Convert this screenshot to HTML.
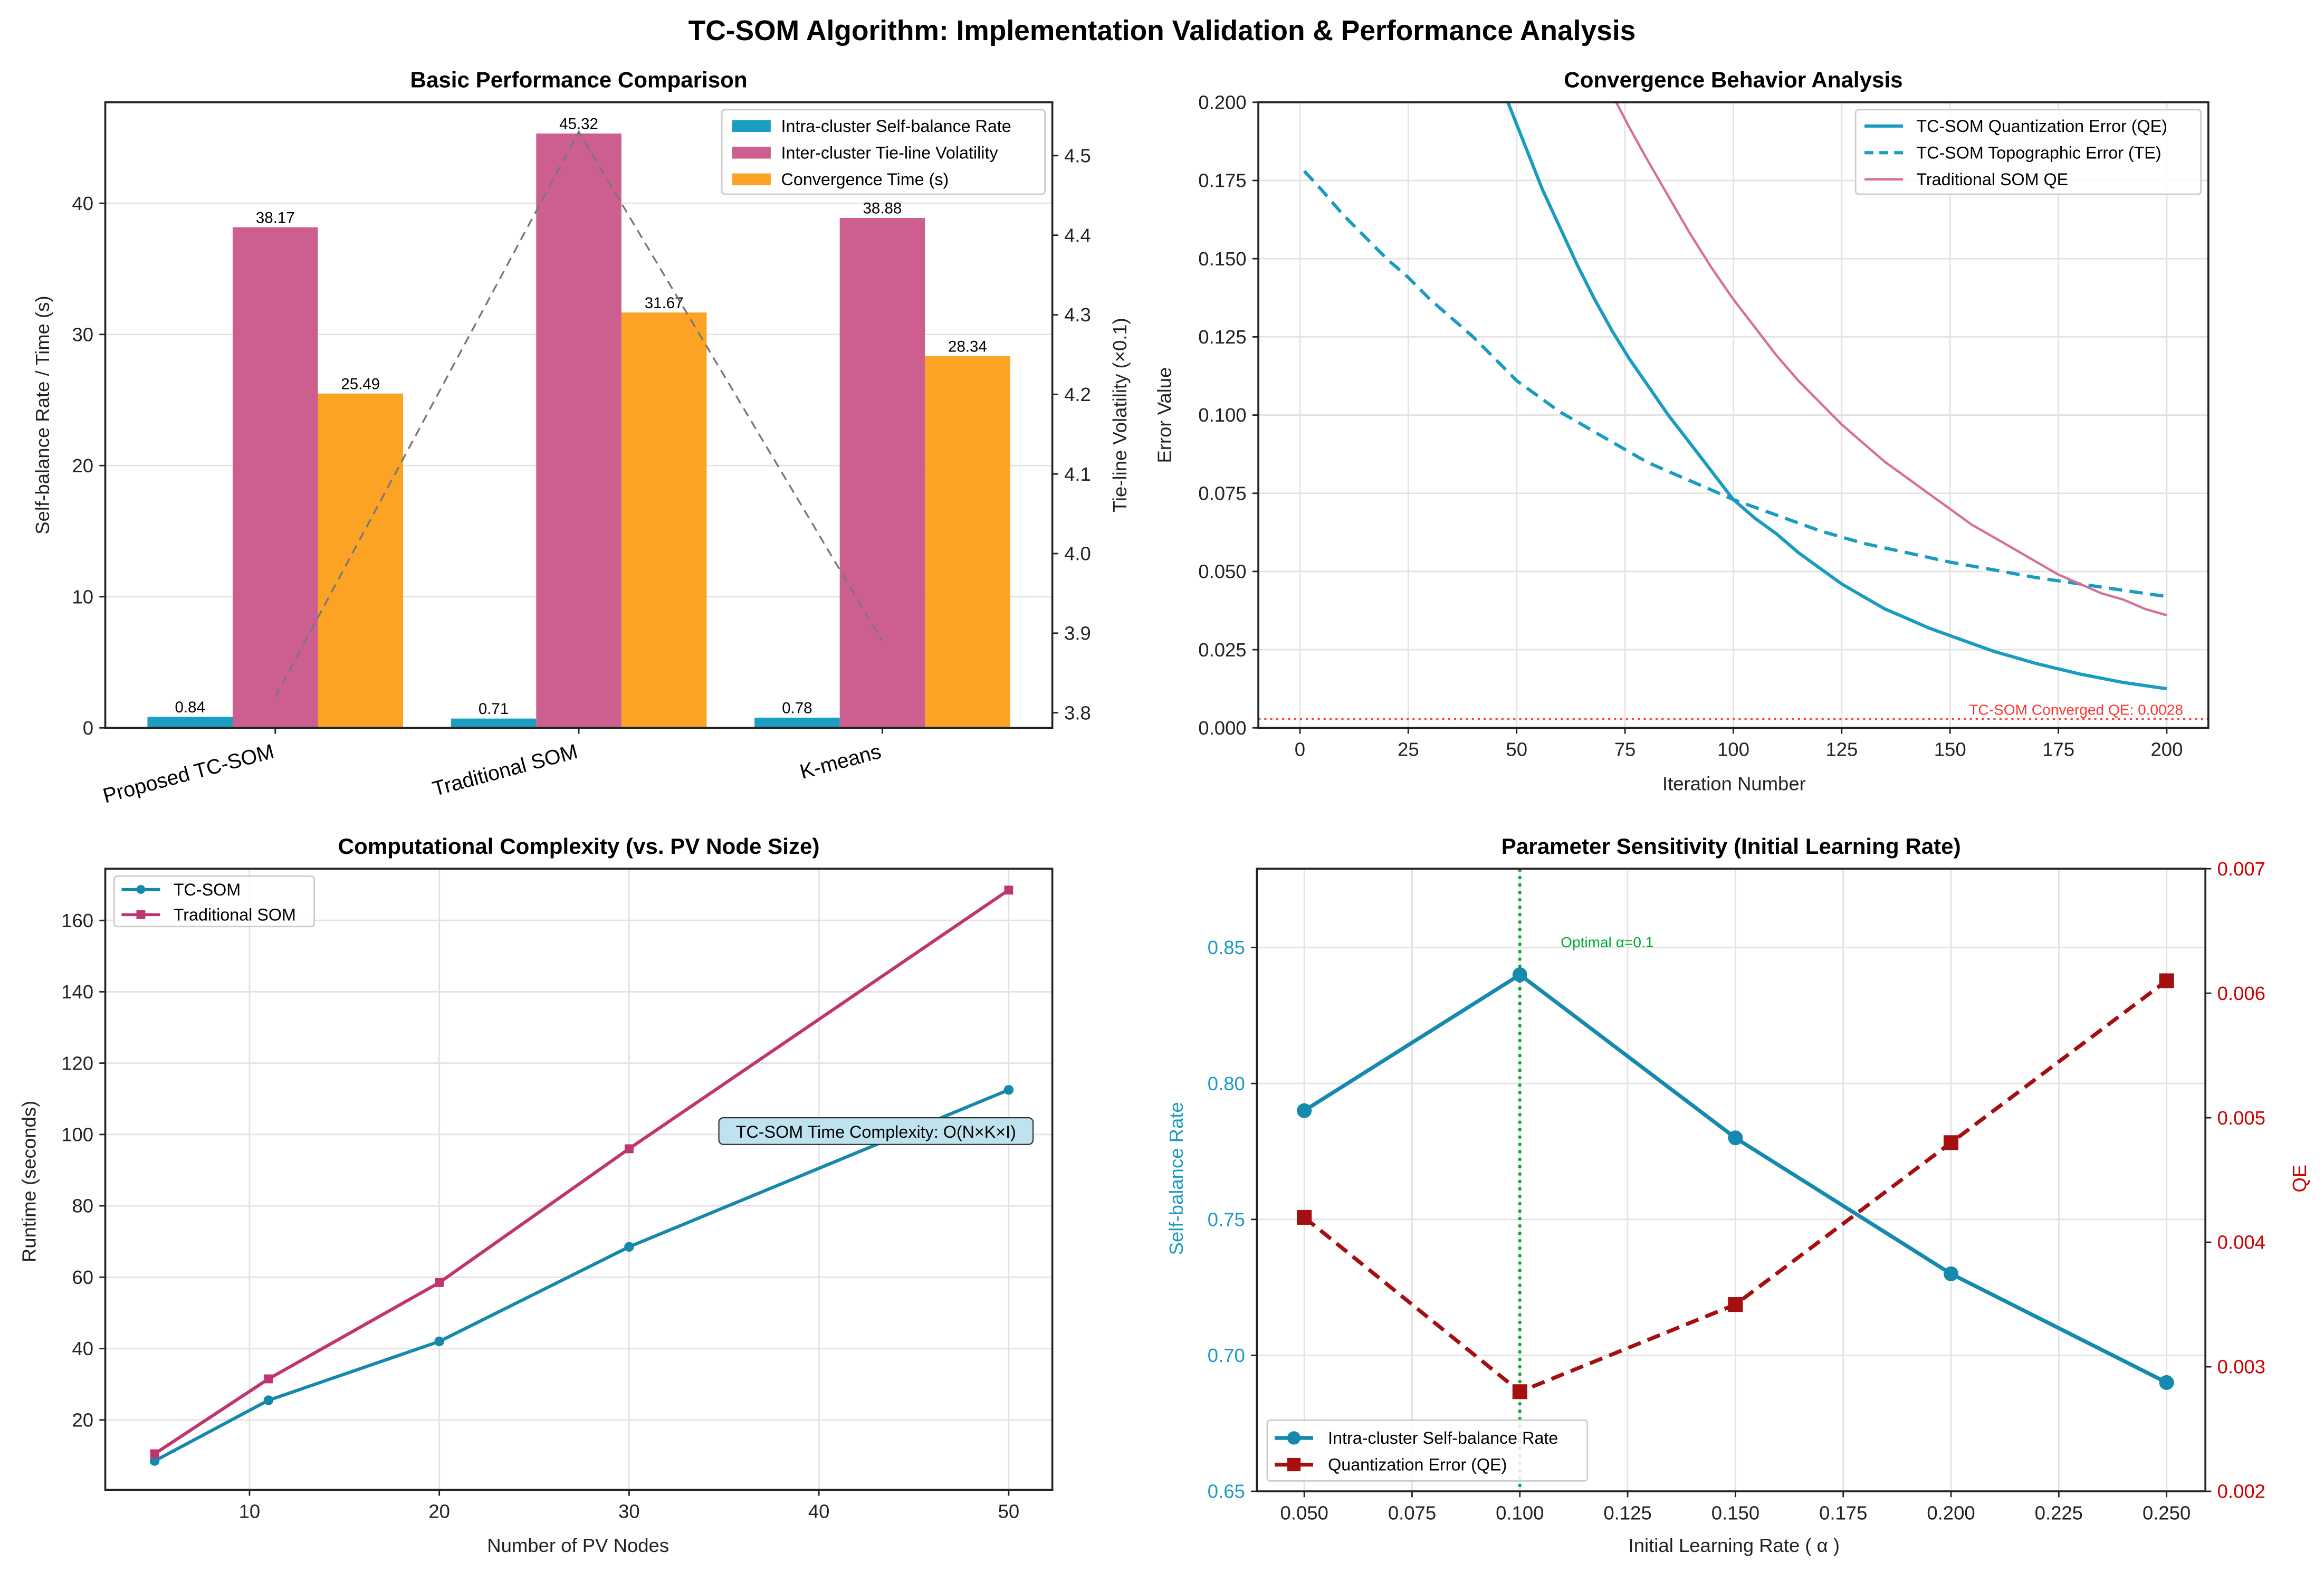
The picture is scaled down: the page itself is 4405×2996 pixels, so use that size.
<!DOCTYPE html>
<html><head><meta charset="utf-8">
<style>
html,body{margin:0;padding:0;background:#fff;}
svg{display:block;font-family:"Liberation Sans",Arial,sans-serif;}
</style></head>
<body>
<svg id="fig" width="4405" height="2996" viewBox="0 0 1568 1066.5" xmlns="http://www.w3.org/2000/svg">
<rect width="1568" height="1066.5" fill="#fff"/>
<text x="784" y="27" text-anchor="middle" font-size="19" font-weight="bold">TC-SOM Algorithm: Implementation Validation &amp; Performance Analysis</text>
</svg>
<script>
// ---------- DATA ----------
const barCategories=["Proposed TC-SOM","Traditional SOM","K-means"];
const selfBalance=[0.84,0.71,0.78];
const tieLineVol=[38.17,45.32,38.88];
const convTime=[25.49,31.67,28.34];
const tieLineRight=[3.82,4.53,3.89];
const barLeftTicks=[0,10,20,30,40];
const barRightTicks=[3.8,3.9,4.0,4.1,4.2,4.3,4.4,4.5];

const qeIter=[48,52,56,60,64,68,72,76,80,85,90,95,100,105,110,115,120,125,130,135,140,145,150,160,170,180,190,200];
const qeVals=[0.2,0.186,0.172,0.160,0.148,0.137,0.127,0.118,0.110,0.100,0.091,0.082,0.073,0.067,0.062,0.056,0.051,0.046,0.042,0.038,0.035,0.032,0.0295,0.0245,0.0205,0.0172,0.0145,0.0125];
const teIter=[1,5,10,15,20,25,30,35,40,45,50,55,60,65,70,75,80,85,90,95,100,110,120,130,140,150,160,170,180,190,200];
const teVals=[0.178,0.172,0.164,0.157,0.150,0.144,0.137,0.131,0.125,0.118,0.111,0.106,0.101,0.097,0.093,0.089,0.085,0.082,0.079,0.076,0.073,0.068,0.063,0.059,0.056,0.053,0.0505,0.048,0.046,0.044,0.042];
const tradIter=[73,76,80,85,90,95,100,105,110,115,120,125,130,135,140,145,150,155,160,165,170,175,180,185,190,195,200];
const tradVals=[0.2,0.192,0.182,0.170,0.158,0.147,0.137,0.128,0.119,0.111,0.104,0.097,0.091,0.085,0.080,0.075,0.070,0.065,0.061,0.057,0.053,0.049,0.046,0.043,0.041,0.038,0.036];
const convergedQE=0.0028;
const convXTicks=[0,25,50,75,100,125,150,175,200];
const convYTicks=[0,0.025,0.05,0.075,0.1,0.125,0.15,0.175,0.2];

const pvNodes=[5,11,20,30,50];
const tcRuntime=[8.5,25.5,42,68.5,112.5];
const tradRuntime=[10.5,31.5,58.5,96,168.5];
const cxXTicks=[10,20,30,40,50];
const cxYTicks=[20,40,60,80,100,120,140,160];

const lrVals=[0.05,0.1,0.15,0.2,0.25];
const lrBalance=[0.79,0.84,0.78,0.73,0.69];
const lrQE=[0.0042,0.0028,0.0035,0.0048,0.0061];
const lrXTicks=[0.05,0.075,0.1,0.125,0.15,0.175,0.2,0.225,0.25];
const lrYTicks=[0.65,0.7,0.75,0.8,0.85];
const lrY2Ticks=[0.002,0.003,0.004,0.005,0.006,0.007];
const optimalLR=0.1;

// ---------- HELPERS ----------
const svg=document.getElementById('fig');
const NS='http://www.w3.org/2000/svg';
function E(tag,attrs,parent,text){const e=document.createElementNS(NS,tag);for(const k in attrs)e.setAttribute(k,attrs[k]);if(text!==undefined)e.textContent=text;(parent||svg).appendChild(e);return e;}
function lin(d0,d1,r0,r1){return v=>r0+(v-d0)*(r1-r0)/(d1-d0);}
function fmt(v,d){return v.toFixed(d);}
function panel(name,L,R,T,B,title){
  const g=E('g',{});
  
  
  const t=E('text',{x:(L+R)/2,y:T-10,'text-anchor':'middle','font-size':15,'font-weight':'bold'},g,title);
  
  
  return g;
}
function frame(g,L,R,T,B){const f=E('rect',{x:L,y:T,width:R-L,height:B-T,fill:'none',stroke:'#222','stroke-width':1.3},g);}
function hgrid(g,ys,L,R){ys.forEach(y=>{const l=E('line',{x1:L,x2:R,y1:y,y2:y,stroke:'#e3e3e3','stroke-width':1},g);});}
function vgrid(g,xs,T,B){xs.forEach(x=>{const l=E('line',{x1:x,x2:x,y1:T,y2:B,stroke:'#e3e3e3','stroke-width':1},g);});}
function yticks(g,vals,sy,x,side,dec,color){vals.forEach(v=>{const y=sy(v);const dx=side<0?-4:4;E('line',{x1:x,x2:x+dx,y1:y,y2:y,stroke:'#222'},g);const t=E('text',{x:x+dx*2,y:y+4.5,'text-anchor':side<0?'end':'start','font-size':13,fill:color||'#222'},g,fmt(v,dec));});}
function xticks(g,vals,sx,y,dec){vals.forEach(v=>{const x=sx(v);E('line',{x1:x,x2:x,y1:y,y2:y+4,stroke:'#222'},g);const t=E('text',{x:x,y:y+19,'text-anchor':'middle','font-size':13,fill:'#222'},g,fmt(v,dec));});}
function pts(xs,ys,sx,sy){return xs.map((x,i)=>sx(x).toFixed(1)+','+sy(ys[i]).toFixed(1)).join(' ');}
function axisLabel(g,x,y,text,rot,name,color){const t=E('text',{x:x,y:y,'text-anchor':'middle','font-size':13,fill:color||'#222',transform:rot?`rotate(${rot} ${x} ${y})`:''},g,text);}
function legendBox(g,x,y,w,h){const r=E('rect',{x:x,y:y,width:w,height:h,fill:'#fff','fill-opacity':0.85,stroke:'#ccc',rx:2},g);}

// ---------- PANEL 1 ----------
(function(){
  const L=71,R=710,T=69,B=491;
  const g=panel('performance-panel',L,R,T,B,'Basic Performance Comparison');
  const sx=lin(-0.56,2.56,L,R), sy=lin(0,47.7,B,T), sy2=lin(3.781,4.567,B,T);
  hgrid(g,barLeftTicks.slice(1).map(sy),L,R);
  const bw=57.5;
  const series=[[selfBalance,'#1a9fc2','self-balance'],[tieLineVol,'#cc5f8f','tie-line'],[convTime,'#fca326','conv-time']];
  barCategories.forEach((c,i)=>{
    series.forEach((s,j)=>{
      const cx=sx(i)+(j-1)*bw; const v=s[0][i];
      const r=E('rect',{x:cx-bw/2,y:sy(v),width:bw,height:B-sy(v),fill:s[1]},g);
      
      
      const t=E('text',{x:cx,y:sy(v)-3,'text-anchor':'middle','font-size':10.5},g,v.toFixed(2));
      
      
    });
    const xl=sx(i);
    E('line',{x1:xl,x2:xl,y1:B,y2:B+4,stroke:'#222'},g);
    const t=E('text',{x:xl,y:B+20,'text-anchor':'end','font-size':14,transform:`rotate(-15 ${xl} ${B+20})`},g,c);
    
    
  });
  const pl=E('polyline',{points:pts([0,1,2],tieLineRight,sx,sy2),fill:'none',stroke:'#777','stroke-width':1.2,'stroke-dasharray':'6 4'},g);
  
  
  frame(g,L,R,T,B);
  yticks(g,barLeftTicks,sy,L,-1,0);
  yticks(g,barRightTicks,sy2,R,1,1);
  axisLabel(g,33,280,'Self-balance Rate / Time (s)',-90,'y-axis-title');
  axisLabel(g,760,280,'Tie-line Volatility (×0.1)',-90,'y2-axis-title');
  legendBox(g,487,74,218,57);
  [['Intra-cluster Self-balance Rate','#1a9fc2'],['Inter-cluster Tie-line Volatility','#cc5f8f'],['Convergence Time (s)','#fca326']].forEach((l,k)=>{
    const y=85+k*18;
    const r=E('rect',{x:494,y:y-4,width:26,height:8,fill:l[1]},g);
    
    const t=E('text',{x:527,y:y+4,'font-size':11.5},g,l[0]);
    
  });
})();

// ---------- PANEL 2 ----------
(function(){
  const L=849,R=1490,T=69,B=491;
  const g=panel('convergence-panel',L,R,T,B,'Convergence Behavior Analysis');
  const sx=lin(-9.6,209.6,L,R), sy=lin(0,0.2,B,T);
  hgrid(g,convYTicks.map(sy),L,R); vgrid(g,convXTicks.map(sx),T,B);
  const clip=E('clipPath',{id:'c2'},g); E('rect',{x:L,y:T,width:R-L,height:B-T},clip);
  const cg=E('g',{'clip-path':'url(#c2)'},g);
  const a=E('polyline',{points:pts(qeIter,qeVals,sx,sy),fill:'none',stroke:'#1a9bc0','stroke-width':2.2,'stroke-linejoin':'round'},cg);
  
  const b=E('polyline',{points:pts(teIter,teVals,sx,sy),fill:'none',stroke:'#1a9bc0','stroke-width':2.2,'stroke-dasharray':'9 5','stroke-linejoin':'round'},cg);
  
  const c=E('polyline',{points:pts(tradIter,tradVals,sx,sy),fill:'none',stroke:'#d4709a','stroke-width':1.6,'stroke-linejoin':'round'},cg);
  
  const h=E('line',{x1:L,x2:R,y1:sy(convergedQE),y2:sy(convergedQE),stroke:'#f44','stroke-width':1.2,'stroke-dasharray':'1.5 2.5'},g);
  
  const ht=E('text',{x:1473,y:sy(convergedQE)-3,'text-anchor':'end','font-size':10,fill:'#f33'},g,'TC-SOM Converged QE: '+convergedQE);
  
  frame(g,L,R,T,B);
  yticks(g,convYTicks,sy,L,-1,3); xticks(g,convXTicks,sx,B,0);
  axisLabel(g,1170,533,'Iteration Number',0,'x-axis-title');
  axisLabel(g,790,280,'Error Value',-90,'y-axis-title');
  legendBox(g,1252,74,233,57);
  [['TC-SOM Quantization Error (QE)','#1a9bc0','',2.2],['TC-SOM Topographic Error (TE)','#1a9bc0','6 4',2.2],['Traditional SOM QE','#d4709a','',1.6]].forEach((l,k)=>{
    const y=85+k*18;
    const s=E('line',{x1:1258,x2:1284,y1:y,y2:y,stroke:l[1],'stroke-width':l[3],'stroke-dasharray':l[2]},g);
    
    const t=E('text',{x:1293,y:y+4,'font-size':11.5},g,l[0]);
    
  });
})();

// ---------- PANEL 3 ----------
(function(){
  const L=71,R=710,T=586,B=1005;
  const g=panel('complexity-panel',L,R,T,B,'Computational Complexity (vs. PV Node Size)');
  const sx=lin(2.4,52.3,L,R), sy=lin(0.4,174.5,B,T);
  hgrid(g,cxYTicks.map(sy),L,R); vgrid(g,cxXTicks.map(sx),T,B);
  const a=E('polyline',{points:pts(pvNodes,tcRuntime,sx,sy),fill:'none',stroke:'#1589ac','stroke-width':2.2},g);
  
  const b=E('polyline',{points:pts(pvNodes,tradRuntime,sx,sy),fill:'none',stroke:'#c0356f','stroke-width':2.2},g);
  
  pvNodes.forEach((n,i)=>{
    const c=E('circle',{cx:sx(n),cy:sy(tcRuntime[i]),r:3.3,fill:'#1589ac'},g);
    
    const s=E('rect',{x:sx(n)-3,y:sy(tradRuntime[i])-3,width:6,height:6,fill:'#c0356f'},g);
    
  });
  const box=E('rect',{x:485,y:754,width:212,height:18,rx:3,fill:'#bfe3ee',stroke:'#333','stroke-width':0.8},g);
  
  const at=E('text',{x:591,y:767.5,'text-anchor':'middle','font-size':11.5},g,'TC-SOM Time Complexity: O(N×K×I)');
  
  frame(g,L,R,T,B);
  yticks(g,cxYTicks,sy,L,-1,0); xticks(g,cxXTicks,sx,B,0);
  axisLabel(g,390,1047,'Number of PV Nodes',0,'x-axis-title');
  axisLabel(g,24,797,'Runtime (seconds)',-90,'y-axis-title');
  legendBox(g,77,591,135,34);
  [['TC-SOM','#1589ac','c'],['Traditional SOM','#c0356f','s']].forEach((l,k)=>{
    const y=600+k*17;
    const s=E('line',{x1:82,x2:108,y1:y,y2:y,stroke:l[1],'stroke-width':2},g);
    
    if(l[2]=='c')E('circle',{cx:95,cy:y,r:3,fill:l[1]},g);else E('rect',{x:92,y:y-3,width:6,height:6,fill:l[1]},g);
    const t=E('text',{x:117,y:y+4,'font-size':11.5},g,l[0]);
    
  });
})();

// ---------- PANEL 4 ----------
(function(){
  const L=848,R=1488,T=586,B=1006;
  const g=panel('sensitivity-panel',L,R,T,B,'Parameter Sensitivity (Initial Learning Rate)');
  const sx=lin(0.039,0.259,L,R), sy=lin(0.65,0.879,B,T), sy2=lin(0.002,0.007,B,T);
  hgrid(g,lrYTicks.map(sy),L,R); vgrid(g,lrXTicks.map(sx),T,B);
  const v=E('line',{x1:sx(optimalLR),x2:sx(optimalLR),y1:T,y2:B,stroke:'#0a3','stroke-width':2,'stroke-dasharray':'2 3'},g);
  
  const vt=E('text',{x:1053,y:639,'font-size':10,fill:'#0a3'},g,'Optimal α=0.1');
  
  const a=E('polyline',{points:pts(lrVals,lrBalance,sx,sy),fill:'none',stroke:'#1689ae','stroke-width':2.6},g);
  
  const b=E('polyline',{points:pts(lrVals,lrQE,sx,sy2),fill:'none',stroke:'#a50f0f','stroke-width':2.6,'stroke-dasharray':'9 5'},g);
  
  lrVals.forEach((lr,i)=>{
    const c=E('circle',{cx:sx(lr),cy:sy(lrBalance[i]),r:5,fill:'#1689ae'},g);
    
    const s=E('rect',{x:sx(lr)-5,y:sy2(lrQE[i])-5,width:10,height:10,fill:'#a50f0f'},g);
    
  });
  frame(g,L,R,T,B);
  yticks(g,lrYTicks,sy,L,-1,2,'#1a9bc0');
  yticks(g,lrY2Ticks,sy2,R,1,3,'#c00');
  xticks(g,lrXTicks,sx,B,3);
  axisLabel(g,1170,1047,'Initial Learning Rate ( α )',0,'x-axis-title');
  axisLabel(g,798,795,'Self-balance Rate',-90,'y-axis-title','#1a9bc0');
  axisLabel(g,1556,795,'QE',-90,'y2-axis-title','#c00');
  legendBox(g,855,958,216,41);
  [['Intra-cluster Self-balance Rate','#1689ae','c'],['Quantization Error (QE)','#a50f0f','s']].forEach((l,k)=>{
    const y=970+k*18;
    const s=E('line',{x1:860,x2:886,y1:y,y2:y,stroke:l[1],'stroke-width':2.6},g);
    
    if(l[2]=='c')E('circle',{cx:873,cy:y,r:4.5,fill:l[1]},g);else E('rect',{x:868.5,y:y-4.5,width:9,height:9,fill:l[1]},g);
    const t=E('text',{x:896,y:y+4,'font-size':11.5},g,l[0]);
    
  });
})();
</script>
</body></html>
